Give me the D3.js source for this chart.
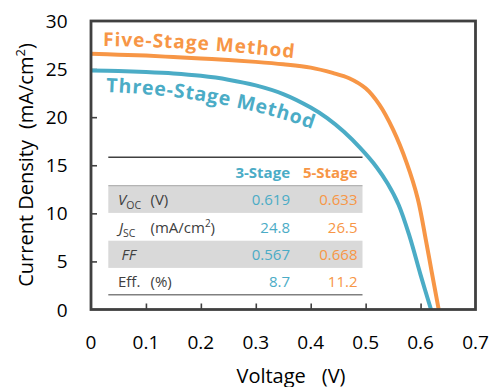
<!DOCTYPE html>
<html><head><meta charset="utf-8">
<script src="https://cdn.jsdelivr.net/npm/d3@7"></script>
<style>
body{margin:0;background:#fff;}
text{font-family:"Open Sans","Noto Sans",sans-serif;}
</style></head>
<body>
<svg id="chart" width="494" height="387"></svg>
<script>
// ---- data ----
const voltageTicks = [0, 0.1, 0.2, 0.3, 0.4, 0.5, 0.6, 0.7];
const currentTicks = [0, 5, 10, 15, 20, 25, 30];
const fiveStageV = [0, 0.05, 0.1, 0.15, 0.2, 0.25, 0.3, 0.35, 0.4, 0.44, 0.47, 0.5, 0.525, 0.55, 0.575, 0.595, 0.61, 0.62, 0.633];
const fiveStageJ = [26.6, 26.5, 26.4, 26.25, 26.1, 25.95, 25.75, 25.5, 25.15, 24.6, 24.05, 23.0, 21.3, 18.7, 15.2, 11.5, 7.1, 4.0, 0];
const threeStageV = [0, 0.05, 0.1, 0.15, 0.2, 0.25, 0.3, 0.35, 0.4, 0.43, 0.46, 0.49, 0.52, 0.54, 0.56, 0.58, 0.6, 0.619];
const threeStageJ = [24.85, 24.8, 24.7, 24.55, 24.3, 23.9, 23.3, 22.4, 21.0, 19.9, 18.5, 16.8, 14.8, 13.1, 10.9, 7.6, 3.6, 0];
const tableHeaders = ["3-Stage", "5-Stage"];
const tableValues3 = ["0.619", "24.8", "0.567", "8.7"];
const tableValues5 = ["0.633", "26.5", "0.668", "11.2"];

const C_ORANGE = "#F79646", C_BLUE = "#4BACC6", C_DARK = "#404040";

const svg = d3.select("#chart");
const x = d3.scaleLinear().domain([0, 0.7]).range([91, 475.5]);
const y = d3.scaleLinear().domain([0, 30]).range([309.5, 21]);

// tick labels
svg.append("g").selectAll("text").data(voltageTicks).join("text")
  .attr("x", d => x(d)).attr("y", 349).attr("text-anchor", "middle")
  .attr("font-size", 19).attr("fill", "#000").text(d => d === 0 ? "0" : d.toFixed(1));
svg.append("g").selectAll("text").data(currentTicks).join("text")
  .attr("x", 67.5).attr("y", d => y(d) + 7).attr("text-anchor", "end")
  .attr("font-size", 19).attr("fill", "#000").text(d => d);

// inward ticks
const gx = svg.append("g").attr("transform", "translate(0,309.5)")
  .call(d3.axisTop(x).tickValues(voltageTicks.slice(1, -1)).tickSize(6).tickFormat(""));
const gy = svg.append("g").attr("transform", "translate(91,0)")
  .call(d3.axisRight(y).tickValues(currentTicks.slice(1, -1)).tickSize(6).tickFormat(""));
[gx, gy].forEach(g => { g.select(".domain").remove(); g.selectAll("line").attr("stroke", C_DARK).attr("stroke-width", 1.6); });

// axis titles
svg.append("text").attr("x", 291).attr("y", 383).attr("text-anchor", "middle")
  .attr("font-size", 20).attr("fill", "#000")
  .call(t => { t.append("tspan").text("Voltage"); t.append("tspan").attr("dx", 16).text("(V)"); });
const yl = svg.append("text").attr("transform", "translate(33,165) rotate(-90)")
  .attr("text-anchor", "middle").attr("font-size", 20).attr("fill", "#000");
yl.append("tspan").text("Current Density");
yl.append("tspan").attr("dx", 11).text("(mA/cm");
yl.append("tspan").attr("dy", -8).attr("font-size", 13).text("2");
yl.append("tspan").attr("dy", 8).text(")");

// table
const tX0 = 108.3, tX1 = 362.5;
const rowTop = [185.7, 213.2, 240.7, 268.0];
const rowH = 27.2;
[0, 2].forEach(i => svg.append("rect").attr("x", tX0).attr("y", rowTop[i]).attr("width", tX1 - tX0).attr("height", rowH).attr("fill", "#D9D9D9"));
svg.append("line").attr("x1", tX0).attr("x2", tX1).attr("y1", 157.3).attr("y2", 157.3).attr("stroke", C_DARK).attr("stroke-width", 1.5);
svg.append("line").attr("x1", tX0).attr("x2", tX1).attr("y1", 185.7).attr("y2", 185.7).attr("stroke", "#A6A6A6").attr("stroke-width", 1);
svg.append("line").attr("x1", tX0).attr("x2", tX1).attr("y1", 294.8).attr("y2", 294.8).attr("stroke", "#808080").attr("stroke-width", 1.5);

const colX = [290, 357.5];
tableHeaders.forEach((h, i) => svg.append("text").attr("x", colX[i]).attr("y", 178)
  .attr("text-anchor", "end").attr("font-size", 15).attr("font-weight", "bold")
  .attr("fill", i === 0 ? C_BLUE : C_ORANGE).text(h));
const rowTextY = rowTop.map(t => t + 19.3);
tableValues3.forEach((v, i) => svg.append("text").attr("x", colX[0]).attr("y", rowTextY[i])
  .attr("text-anchor", "end").attr("font-size", 15).attr("fill", C_BLUE).text(v));
tableValues5.forEach((v, i) => svg.append("text").attr("x", colX[1]).attr("y", rowTextY[i])
  .attr("text-anchor", "end").attr("font-size", 15).attr("fill", C_ORANGE).text(v));

function label(i, xPos) { return svg.append("text").attr("x", xPos).attr("y", rowTextY[i]).attr("font-size", 15).attr("fill", C_DARK); }
let t0 = label(0, 118);
t0.append("tspan").attr("font-style", "italic").text("V");
t0.append("tspan").attr("font-size", 10.5).attr("dy", 4).text("OC");
label(0, 150.5).text("(V)");
let t1 = label(1, 119);
t1.append("tspan").attr("font-style", "italic").text("J");
t1.append("tspan").attr("font-size", 10.5).attr("dy", 4).text("SC");
let t1b = label(1, 150.5);
t1b.append("tspan").text("(mA/cm");
t1b.append("tspan").attr("font-size", 10).attr("dy", -6).text("2");
t1b.append("tspan").attr("dy", 6).text(")");
label(2, 121.5).attr("font-style", "italic").text("FF");
label(3, 118).text("Eff.");
label(3, 150.5).text("(%)");

// curves
const line = d3.line().x(d => x(d[0])).y(d => y(d[1])).curve(d3.curveCatmullRom.alpha(0.5));
svg.append("path").datum(threeStageV.map((v, i) => [v, threeStageJ[i]]))
  .attr("d", line).attr("fill", "none").attr("stroke", C_BLUE).attr("stroke-width", 4);
svg.append("path").datum(fiveStageV.map((v, i) => [v, fiveStageJ[i]]))
  .attr("d", line).attr("fill", "none").attr("stroke", C_ORANGE).attr("stroke-width", 4);

// curve labels along paths
const defs = svg.append("defs");
defs.append("path").attr("id", "p5").attr("d", "M103,46 Q200,47 300,59");
defs.append("path").attr("id", "p3").attr("d", "M106,92 Q222,96 315,130");
svg.append("text").attr("font-size", 19).attr("font-weight", "bold").attr("fill", C_ORANGE)
  .attr("letter-spacing", 1)
  .append("textPath").attr("href", "#p5").text("Five-Stage Method");
svg.append("text").attr("font-size", 19.5).attr("font-weight", "bold").attr("fill", C_BLUE)
  .attr("letter-spacing", 0.8)
  .append("textPath").attr("href", "#p3").text("Three-Stage Method");

// frame
svg.append("rect").attr("x", 91).attr("y", 21).attr("width", 475.5 - 91).attr("height", 309.5 - 21)
  .attr("fill", "none").attr("stroke", C_DARK).attr("stroke-width", 2.8);
</script>
</body></html>
